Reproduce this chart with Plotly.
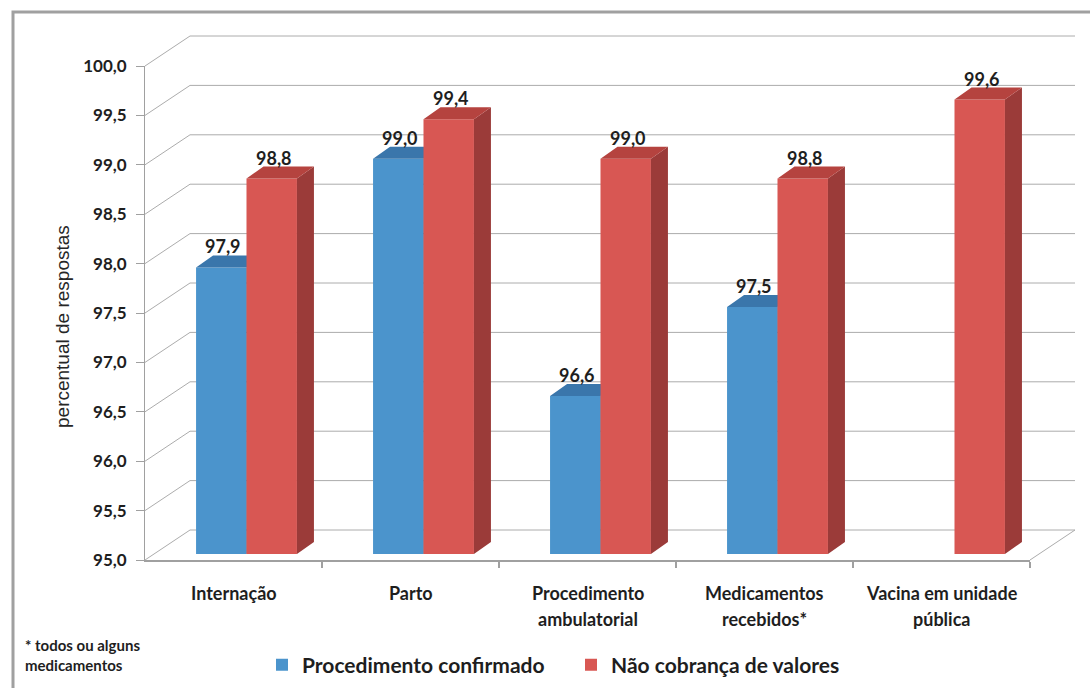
import plotly.graph_objects as go

# ---- data ----
categories = [
    "Internação",
    "Parto",
    "Procedimento\nambulatorial",
    "Medicamentos\nrecebidos*",
    "Vacina em unidade\npública",
]
procedimento_confirmado = [97.9, 99.0, 96.6, 97.5, None]
nao_cobranca = [98.8, 99.4, 99.0, 98.8, 99.6]
y_ticks = [95.0, 95.5, 96.0, 96.5, 97.0, 97.5, 98.0, 98.5, 99.0, 99.5, 100.0]
series_names = ["Procedimento confirmado", "Não cobrança de valores"]
y_title = "percentual de respostas"

# ---- styling / geometry (pixels) ----
FIG_W, FIG_H = 1090, 688
M_L, M_R, M_T, M_B = 145, 15, 36, 128
PW, PH = FIG_W - M_L - M_R, FIG_H - M_T - M_B      # plot area
FRONT_W, FRONT_H = 885, 494                          # front plane of the 3-D box
WALL_DX, WALL_DY = PW - FRONT_W, PH - FRONT_H        # depth to back wall
BAR_DX, BAR_DY = 13, 6                               # bar plane offset from front plane
DEPTH_DX, DEPTH_DY = 17, 12                          # bar depth
BAR_W = 0.285
Y0, Y1 = 95.0, 100.0
X0, X1 = -0.5, len(categories) - 0.5

GRID = "#acacac"
AXIS = "#a0a0a0"
TEXT = "#1e1e1e"
FONT = "Lato"

blue = dict(front="#4b94cc", top="#3a76ab", side="#2f6290")
red = dict(front="#d85753", top="#b5433f", side="#9b3b39")

# unit conversions for the bar plane
ux = (X1 - X0) / FRONT_W
uy = (Y1 - Y0) / FRONT_H
ddx, ddy = DEPTH_DX * ux, DEPTH_DY * uy

fig = go.Figure()
# keeps the front subplot alive
fig.add_trace(go.Scatter(x=[], y=[], xaxis="x", yaxis="y", showlegend=False, hoverinfo="skip"))


def add_series(values, name, colors, offset, xa, ya):
    xs = list(range(len(values)))
    fig.add_trace(go.Bar(
        x=xs, y=values, name=name, width=BAR_W, offset=offset,
        marker=dict(color=colors["front"], line=dict(width=0)),
        xaxis=xa, yaxis=ya,
    ))
    top_x, top_y, side_x, side_y = [], [], [], []
    for i, v in zip(xs, values):
        if v is None:
            continue
        l, r = i + offset, i + offset + BAR_W
        top_x += [l, l + ddx, r + ddx, r, l, None]
        top_y += [v, v + ddy, v + ddy, v, v, None]
        side_x += [r, r + ddx, r + ddx, r, r, None]
        side_y += [Y0, Y0 + ddy, v + ddy, v, Y0, None]
    for px, py, c in ((side_x, side_y, colors["side"]), (top_x, top_y, colors["top"])):
        fig.add_trace(go.Scatter(
            x=px, y=py, mode="lines", fill="toself", fillcolor=c,
            line=dict(width=0, color=c), showlegend=False, hoverinfo="skip",
            xaxis=xa, yaxis=ya,
        ))


add_series(procedimento_confirmado, series_names[0], blue, -BAR_W, "x2", "y2")
add_series(nao_cobranca, series_names[1], red, 0.0, "x3", "y3")

# value labels
annotations = []
for values, offset in ((procedimento_confirmado, -BAR_W), (nao_cobranca, 0.0)):
    for i, v in enumerate(values):
        if v is None:
            continue
        annotations.append(dict(
            x=i + offset + BAR_W / 2, y=v, xref="x2", yref="y2",
            text=f"{v:.1f}".replace(".", ","), showarrow=False,
            yshift=21, xshift=2, yanchor="middle",
            font=dict(family=FONT, size=18, color=TEXT, weight=700),
        ))

# category labels (one annotation per line)
for i, cat in enumerate(categories):
    for j, line in enumerate(cat.split("\n")):
        annotations.append(dict(
            x=i, xref="x", y=(-33 - 26 * j) / PH, yref="paper",
            text=line, showarrow=False, yanchor="middle",
            font=dict(family=FONT, size=18, color=TEXT, weight=700),
        ))

# value-axis title
annotations.append(dict(
    x=(62 - M_L) / PW, y=(PH - (327 - M_T)) / PH, xref="paper", yref="paper",
    text=y_title, textangle=-90, showarrow=False,
    xanchor="center", yanchor="middle",
    font=dict(family="Liberation Sans", size=19, color="#262626"),
))

annotations.append(dict(
    x=(23 - M_L) / PW, y=(PH - (655 - M_T)) / PH, xref="paper", yref="paper",
    xanchor="left", yanchor="middle", align="left", showarrow=False,
    text="* todos ou alguns<br>medicamentos",
    font=dict(family=FONT, size=15, color=TEXT, weight=700),
))

# walls: back gridlines and side-wall diagonals
shapes = []
for v in y_ticks:
    fy = (v - Y0) / (Y1 - Y0) * FRONT_H / PH
    by = (WALL_DY + (v - Y0) / (Y1 - Y0) * FRONT_H) / PH
    shapes.append(dict(type="line", xref="paper", yref="paper", layer="below",
                       x0=WALL_DX / PW, x1=1, y0=by, y1=by, line=dict(color=GRID, width=1)))
    shapes.append(dict(type="line", xref="paper", yref="paper", layer="below",
                       x0=0, x1=WALL_DX / PW, y0=fy, y1=by, line=dict(color=GRID, width=1)))
shapes.append(dict(type="line", xref="paper", yref="paper", layer="below",
                   x0=FRONT_W / PW, x1=1, y0=0, y1=WALL_DY / PH, line=dict(color=GRID, width=1)))
# outer frame
shapes.append(dict(type="rect", xref="paper", yref="paper", layer="below",
                   x0=(13 - M_L) / PW, x1=(FIG_W + 20 - M_L) / PW,
                   y0=(PH - (FIG_H + 20 - M_T)) / PH, y1=(PH - (12 - M_T)) / PH,
                   line=dict(color="#a0a0a0", width=3)))

bar_xdom = [BAR_DX / PW, (FRONT_W + BAR_DX) / PW]
bar_ydom = [BAR_DY / PH, (FRONT_H + BAR_DY) / PH]
hidden = dict(visible=False, fixedrange=True, range=[X0, X1])

fig.update_layout(
    width=FIG_W, height=FIG_H, autosize=False,
    margin=dict(l=M_L, r=M_R, t=M_T, b=M_B, pad=0, autoexpand=False),
    paper_bgcolor="white", plot_bgcolor="rgba(0,0,0,0)",
    separators=",.",
    barmode="overlay",
    xaxis=dict(domain=[0, FRONT_W / PW], range=[X0, X1], anchor="y",
               tickvals=[k + 0.5 for k in range(len(categories))],
               ticks="outside", ticklen=6, tickwidth=2, tickcolor=AXIS,
               showticklabels=False, showline=True, linecolor=AXIS, linewidth=2,
               showgrid=False, zeroline=False, fixedrange=True),
    yaxis=dict(domain=[0, FRONT_H / PH], range=[Y0, Y1], anchor="x",
               tickvals=y_ticks, tickformat=".1f",
               ticks="outside", ticklen=8, tickwidth=1, tickcolor=AXIS,
               ticklabelstandoff=6,
               showline=True, linecolor=AXIS, linewidth=1,
               showgrid=False, zeroline=False, fixedrange=True,
               tickfont=dict(family=FONT, size=17, color=TEXT, weight=700)),
    xaxis2=dict(domain=bar_xdom, anchor="y2", **hidden),
    yaxis2=dict(domain=bar_ydom, anchor="x2", visible=False, fixedrange=True, range=[Y0, Y1]),
    xaxis3=dict(domain=bar_xdom, anchor="y3", overlaying="x2", **hidden),
    yaxis3=dict(domain=bar_ydom, anchor="x3", overlaying="y2", visible=False,
                fixedrange=True, range=[Y0, Y1]),
    legend=dict(orientation="h", xref="container", yref="container",
                x=262 / FIG_W, xanchor="left",
                y=(FIG_H - 665) / FIG_H, yanchor="middle",
                entrywidth=264, entrywidthmode="pixels",
                font=dict(family=FONT, size=21, color=TEXT, weight=700),
                bgcolor="rgba(0,0,0,0)", traceorder="normal"),
    annotations=annotations,
    shapes=shapes,
    showlegend=True,
)

fig.write_html("out.html")
